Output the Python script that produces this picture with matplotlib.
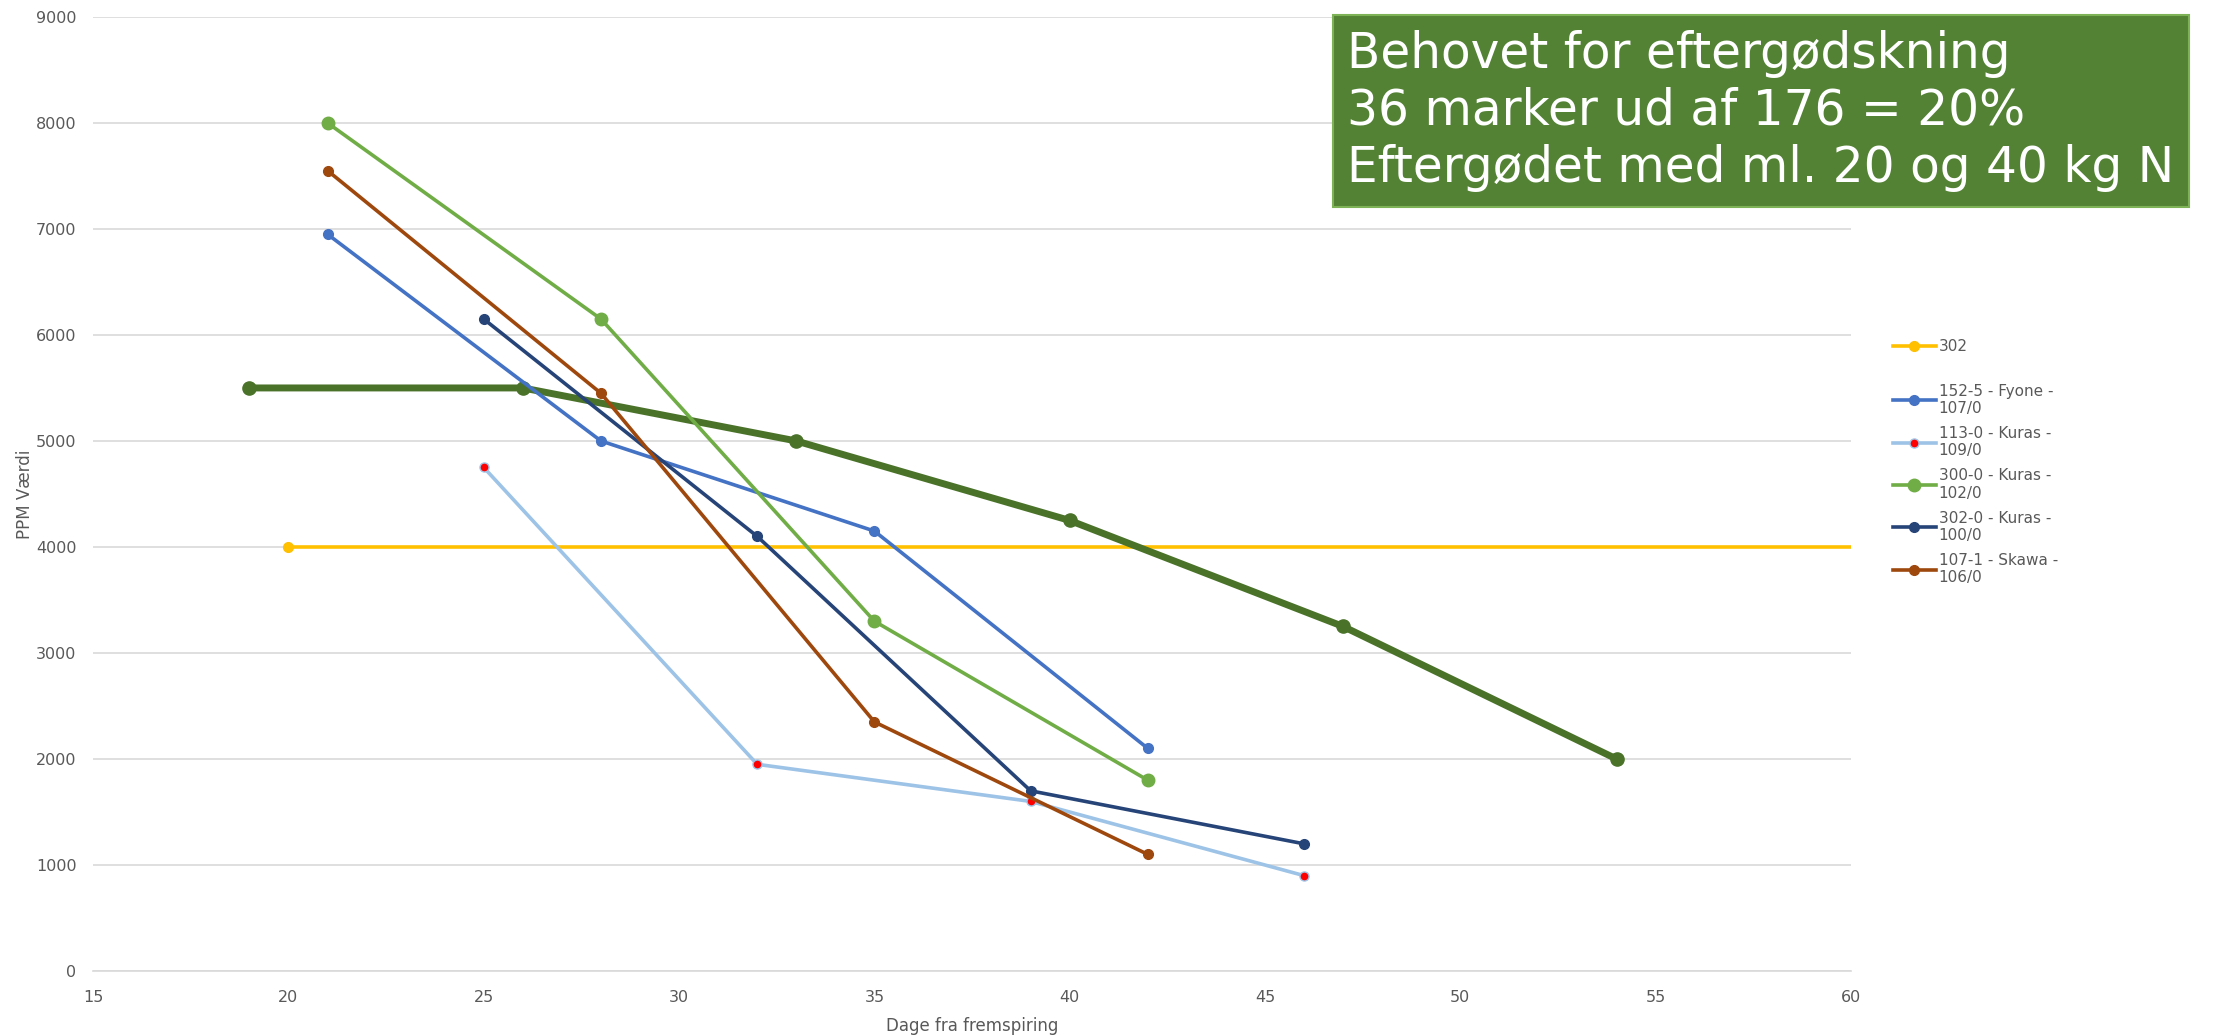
import matplotlib.pyplot as plt

plt.rcParams['font.family'] = ['DejaVu Sans']

# data
ref_x = [20, 60]
ref_y = [4000, 4000]

avg_x = [19, 26, 33, 40, 47, 54]
avg_y = [5500, 5500, 5000, 4250, 3250, 2000]

fyone_x = [21, 28, 35, 42]
fyone_y = [6950, 5000, 4150, 2100]

kuras113_x = [25, 32, 39, 46]
kuras113_y = [4750, 1950, 1600, 900]

kuras300_x = [21, 28, 35, 42]
kuras300_y = [8000, 6150, 3300, 1800]

kuras302_x = [25, 32, 39, 46]
kuras302_y = [6150, 4100, 1700, 1200]

skawa_x = [21, 28, 35, 42]
skawa_y = [7550, 5450, 2350, 1100]

labels = ['302', '152-5 - Fyone -\n107/0', '113-0 - Kuras -\n109/0',
          '300-0 - Kuras -\n102/0', '302-0 - Kuras -\n100/0', '107-1 - Skawa -\n106/0']

box_text = "Behovet for eftergødskning\n36 marker ud af 176 = 20%\nEftergødet med ml. 20 og 40 kg N"

fig = plt.figure(figsize=(22.18, 10.36), dpi=100)
ax = fig.add_axes([0.042, 0.0627, 0.7925, 0.921])

h_ref, = ax.plot(ref_x, ref_y, color='#FFC000', lw=2.6, marker='o', ms=7,
                 markevery=[0], label=labels[0])
ax.plot(avg_x, avg_y, color='#4A7229', lw=5, marker='o', ms=9.5)
h1, = ax.plot(fyone_x, fyone_y, color='#4472C4', lw=2.6, marker='o', ms=7, label=labels[1])
h2, = ax.plot(kuras113_x, kuras113_y, color='#9DC3E6', lw=2.6, marker='o', ms=6.5,
              mfc='red', mec='#9DC3E6', mew=1, label=labels[2])
h3, = ax.plot(kuras300_x, kuras300_y, color='#70AD47', lw=2.6, marker='o', ms=9, label=labels[3])
h4, = ax.plot(kuras302_x, kuras302_y, color='#264478', lw=2.6, marker='o', ms=7, label=labels[4])
h5, = ax.plot(skawa_x, skawa_y, color='#9E480E', lw=2.6, marker='o', ms=7, label=labels[5])

ax.set_xlim(15, 60)
ax.set_ylim(0, 9000)
ax.set_xticks(range(15, 61, 5))
ax.set_yticks(range(0, 9001, 1000))
ax.grid(axis='y', color='#D9D9D9', lw=1.2)
ax.set_axisbelow(True)
for s in ['top', 'right', 'left']:
    ax.spines[s].set_visible(False)
ax.spines['bottom'].set_color('#D9D9D9')
ax.spines['bottom'].set_linewidth(1.2)
ax.tick_params(length=0, labelsize=11.5, labelcolor='#595959')
ax.tick_params(axis='x', pad=14)
ax.tick_params(axis='y', pad=12)
ax.set_xlabel('Dage fra fremspiring', fontsize=12, color='#595959', labelpad=8)
ax.set_ylabel('PPM Værdi', fontsize=12, color='#595959', labelpad=1)

# legend: "302" on its own, then a gap, then the fields
leg_kw = dict(frameon=False, fontsize=11, labelcolor='#595959', handlelength=2.8,
              handletextpad=0.2, labelspacing=0.65)
leg1 = ax.legend([h_ref], [labels[0]], loc='center left',
                 bbox_to_anchor=(1.016, 0.6545), **leg_kw)
ax.add_artist(leg1)
ax.legend([h1, h2, h3, h4, h5], labels[1:], loc='center left',
          bbox_to_anchor=(1.016, 0.51), **leg_kw)

fig.text(0.6075, 0.893, box_text, fontsize=35, color='white', va='center', ha='left',
         linespacing=1.24,
         bbox=dict(boxstyle='square,pad=0.3', facecolor='#548235', edgecolor='#7DB356', lw=1.5))

plt.savefig('out.png', dpi=100)
